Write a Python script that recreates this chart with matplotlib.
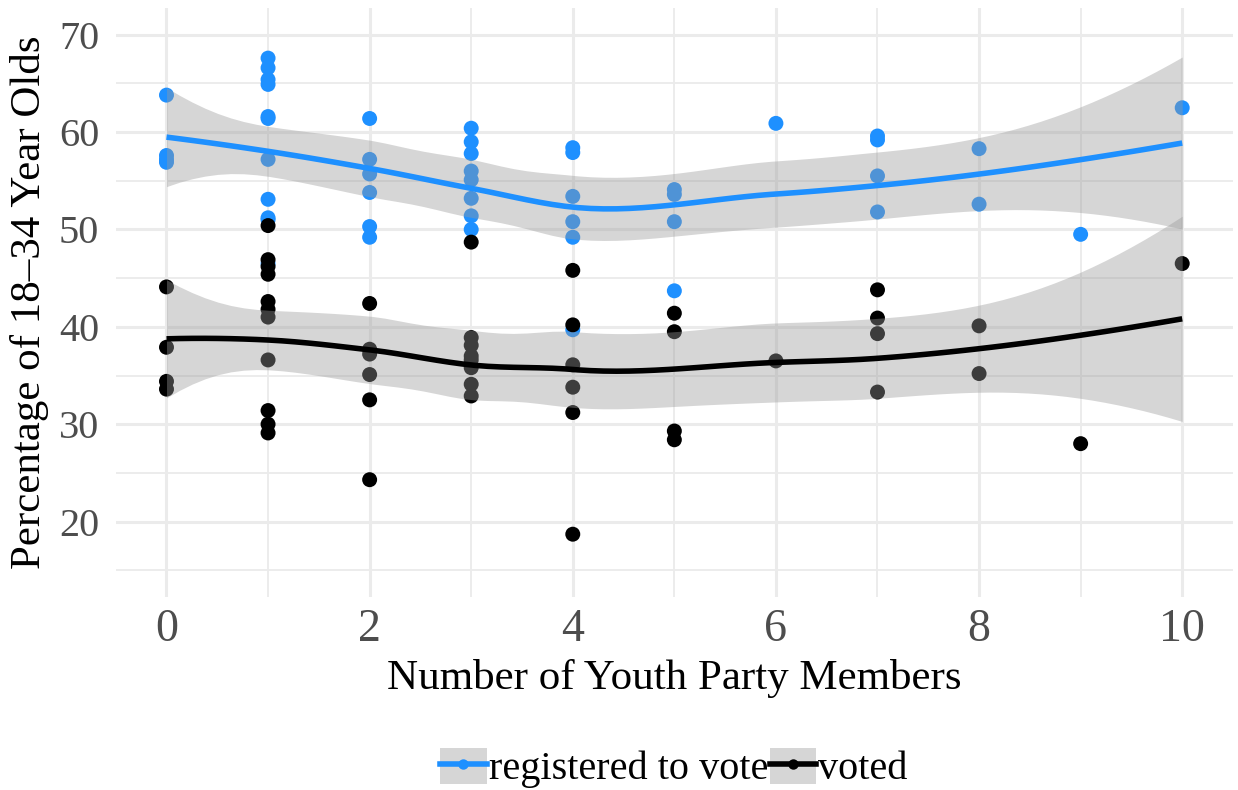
import numpy as np
import matplotlib
matplotlib.use("Agg")
import matplotlib.pyplot as plt
from matplotlib.lines import Line2D
from matplotlib.patches import Patch

# ---- data: number of youth party members vs. share of 18-34 year olds ----
members_registered = [0, 0, 0, 0,
                      1, 1, 1, 1, 1, 1, 1, 1, 1, 1, 1,
                      2, 2, 2, 2, 2, 2,
                      3, 3, 3, 3, 3, 3, 3, 3,
                      4, 4, 4, 4, 4, 4,
                      5, 5, 5, 5,
                      6,
                      7, 7, 7, 7,
                      8, 8,
                      9,
                      10]
registered = [63.8, 57.6, 57.2, 56.9,
              67.6, 66.6, 65.4, 64.9, 61.6, 61.4, 57.2, 53.1, 51.2, 51.0, 46.5,
              61.4, 57.2, 55.7, 53.8, 50.3, 49.2,
              60.4, 59.0, 57.8, 56.0, 55.1, 53.2, 51.4, 50.0,
              58.4, 57.9, 53.4, 50.8, 49.2, 39.7,
              54.1, 53.6, 50.8, 43.7,
              60.9,
              59.6, 59.2, 55.5, 51.8,
              58.3, 52.6,
              49.5,
              62.5]

members_voted = members_registered
voted = [44.1, 37.9, 34.4, 33.6,
         50.4, 46.9, 46.2, 45.4, 42.6, 41.8, 41.0, 36.6, 31.4, 30.0, 29.1,
         42.4, 37.7, 37.2, 35.1, 32.5, 24.3,
         48.7, 38.9, 38.1, 37.0, 36.6, 35.8, 34.1, 32.9,
         45.8, 40.2, 36.1, 33.8, 31.2, 18.7,
         41.4, 39.5, 29.3, 28.4,
         36.5,
         43.8, 40.9, 39.3, 33.3,
         40.1, 35.2,
         28.0,
         46.5]

series_labels = ["registered to vote", "voted"]
series_colors = ["#1E90FF", "#000000"]

x_ticks = [0, 2, 4, 6, 8, 10]
y_ticks = [20, 30, 40, 50, 60, 70]
x_title = "Number of Youth Party Members"
y_title = "Percentage of 18\u201334 Year Olds"


# ---- local quadratic regression (loess, span 0.75, kd-tree interpolation) ----
def tricube(u):
    u = np.clip(u, 0.0, 1.0)
    return (1.0 - u ** 3) ** 3


def local_rows(x, x0, q, degree=2):
    d = np.abs(x - x0)
    h = np.sort(d)[q - 1]
    w = np.where(d < h, tricube(d / h), 0.0)
    X = np.vander(x - x0, degree + 1, increasing=True)
    XtW = X.T * w
    A = np.linalg.pinv(XtW @ X) @ XtW
    return A[0], A[1]


def kd_vertices(x, fc):
    xs = np.sort(x)
    n = len(xs)
    mu = 0.005 * max(xs[-1] - xs[0], 1e-10)
    v_lo, v_hi = xs[0] - mu, xs[-1] + mu
    verts = {v_lo, v_hi}

    def split(l, u, a, b):
        if u - l + 1 <= fc:
            return
        m = (l + u) // 2
        off = 0
        while not (m + off >= u or m + off < l):
            if xs[m + off] == xs[m + off + 1]:
                off = -off
                if off >= 0:
                    off += 1
            else:
                m = m + off
                break
        xi = xs[m]
        if xi == a or xi == b:
            return
        verts.add(xi)
        split(l, m, a, xi)
        split(m + 1, u, xi, b)

    split(0, n - 1, v_lo, v_hi)
    return np.array(sorted(verts))


def t_quantile_975(nu):
    z = 1.959963984540054
    g1 = (z ** 3 + z) / 4
    g2 = (5 * z ** 5 + 16 * z ** 3 + 3 * z) / 96
    g3 = (3 * z ** 7 + 19 * z ** 5 + 17 * z ** 3 - 15 * z) / 384
    g4 = (79 * z ** 9 + 776 * z ** 7 + 1482 * z ** 5 - 1920 * z ** 3 - 945 * z) / 92160
    return z + g1 / nu + g2 / nu ** 2 + g3 / nu ** 3 + g4 / nu ** 4


def loess_smooth(x, y, grid, span=0.75, cell=0.2):
    x = np.asarray(x, float)
    y = np.asarray(y, float)
    n = len(x)
    q = int(np.floor(n * span))
    fc = int(np.floor(n * span * cell))
    verts = kd_vertices(x, fc)
    V, S = [], []
    for v in verts:
        r0, r1 = local_rows(x, v, q)
        V.append(r0)
        S.append(r1)
    V, S = np.array(V), np.array(S)

    def operator(pts):
        pts = np.asarray(pts, float)
        k = np.clip(np.searchsorted(verts, pts, side="right") - 1, 0, len(verts) - 2)
        a, b = verts[k], verts[k + 1]
        h = b - a
        t = (pts - a) / h
        phi0 = (1 - t) ** 2 * (1 + 2 * t)
        phi1 = t ** 2 * (3 - 2 * t)
        psi0 = t * (1 - t) ** 2
        psi1 = -t ** 2 * (1 - t)
        return (phi0[:, None] * V[k] + phi1[:, None] * V[k + 1]
                + (h * psi0)[:, None] * S[k] + (h * psi1)[:, None] * S[k + 1])

    Ld = operator(x)
    resid = y - Ld @ y
    M = (np.eye(n) - Ld).T @ (np.eye(n) - Ld)
    one_delta = np.trace(M)
    two_delta = np.trace(M @ M)
    s = np.sqrt(np.sum(resid ** 2) / one_delta)
    Lg = operator(grid)
    fit = Lg @ y
    se = s * np.sqrt(np.sum(Lg ** 2, axis=1))
    tq = t_quantile_975(one_delta ** 2 / two_delta)
    return fit, fit - tq * se, fit + tq * se


# ---- figure ----
plt.rcParams["font.family"] = ["Liberation Serif", "DejaVu Serif"]
fig = plt.figure(figsize=(12.38, 7.90), dpi=100)
ax = fig.add_axes([0.09346, 0.2443, 0.9025, 0.7456])

ax.set_xlim(-0.5, 10.5)
ax.set_ylim(12.25, 72.75)
ax.set_xticks(x_ticks)
ax.set_xticks([1, 3, 5, 7, 9], minor=True)
ax.set_yticks(y_ticks)
ax.set_yticks([15, 25, 35, 45, 55, 65], minor=True)
ax.set_xticklabels([str(v) for v in x_ticks])
ax.set_yticklabels([str(v) for v in y_ticks])
ax.tick_params(axis="both", which="both", length=0)
ax.tick_params(axis="x", labelsize=33, labelcolor="#4D4D4D", pad=8)
ax.tick_params(axis="y", labelsize=29, labelcolor="#4D4D4D", pad=12)
for sp in ax.spines.values():
    sp.set_visible(False)
ax.set_axisbelow(True)
ax.grid(which="major", color="#EBEBEB", linewidth=2.2)
ax.grid(which="minor", color="#EBEBEB", linewidth=1.3)

groups = [(members_registered, registered), (members_voted, voted)]

# points first, smoothers on top
for i, ((gx, gy), col) in enumerate(zip(groups, series_colors)):
    ax.scatter(gx, gy, s=116, color=col, edgecolors="none", zorder=2 + i)

grid = np.linspace(0, 10, 80)
for i, ((gx, gy), col) in enumerate(zip(groups, series_colors)):
    fit, lo, hi = loess_smooth(gx, gy, grid)
    ax.fill_between(grid, lo, hi, color="#999999", alpha=0.4, linewidth=0,
                    zorder=4 + 2 * i)
    ax.plot(grid, fit, color=col, linewidth=4.0, solid_capstyle="butt",
            zorder=5 + 2 * i)

fig.text(674 / 1238, 1 - 689 / 790, x_title, ha="center", va="baseline",
         fontsize=31, color="black")
fig.text(30 / 1238, 1 - 302 / 790, y_title, ha="center", va="center",
         rotation=90, fontsize=31, color="black")

handles = [(Patch(facecolor="#D6D6D6", edgecolor="none"),
            Line2D([], [], color=c, linewidth=4.0, marker="o", markersize=7.5,
                   markeredgewidth=0))
           for c in series_colors]
fig.legend(handles, series_labels, loc="center",
           bbox_to_anchor=(674 / 1238, 1 - 768 / 790), ncol=2, frameon=False,
           fontsize=29, handlelength=1.15, handleheight=1.0, handletextpad=0.05,
           columnspacing=0.05, borderpad=0, borderaxespad=0)

fig.savefig("out.png", dpi=100)
